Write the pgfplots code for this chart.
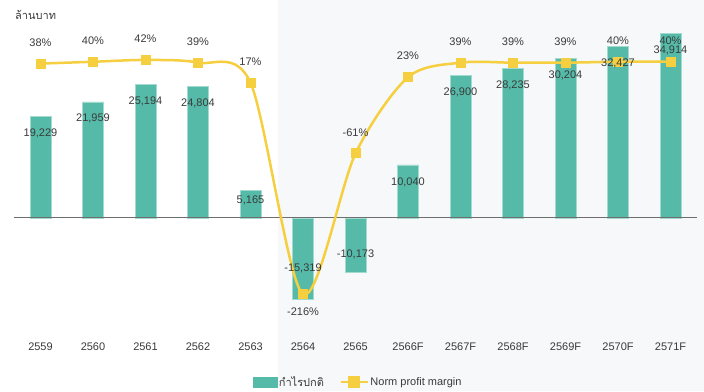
\documentclass[border=0pt]{standalone}
\usepackage{pgfplots}
\pgfplotsset{compat=1.18}
\usepackage{pgfplotstable}
\usepackage{fontspec}
\setmainfont{Liberation Sans}
\newfontfamily\thaifont[Script=Thai]{Loma}
\definecolor{barc}{HTML}{55BBA8}
\definecolor{baredge}{HTML}{A3DACF}
\definecolor{linec}{HTML}{F6CF40}
\definecolor{txt}{HTML}{3A3A3A}
\definecolor{bggray}{HTML}{F7F8FA}
\definecolor{zerog}{HTML}{6E6E6E}

\pgfplotstableread{
x y lab off
0 19229 19,229 -17
1 21959 21,959 -17
2 25194 25,194 -17
3 24804 24,804 -17
4 5165 5,165 -10
5 -15319 -15,319 31
6 -10173 -10,173 17
7 10040 10,040 -17
8 26900 26,900 -17
9 28235 28,235 -17
10 30204 30,204 -17
11 32427 32,427 -17
12 34914 34,914 -17
}\bardata

\pgfplotstableread{
x m lab off
0 38 38 21
1 40 40 21
2 42 42 21
3 39 39 21
4 17 17 21
5 -216 -216 -17
6 -61 -61 21
7 23 23 21
8 39 39 21
9 39 39 21
10 39 39 21
11 40 40 21
12 40 40 21
}\margindata

\pgfplotsset{
  base/.style={
    scale only axis, width=682.5pt, height=300pt,
    at={(14.25pt,71pt)}, anchor=south west,
    xmin=-0.5, xmax=12.5,
    axis line style={draw=none}, tick style={draw=none},
    clip=false, ytick=\empty,
    every tick label/.append style={font=\fontsize{11}{13}\selectfont, text=txt},
  },
  prim/.style={ymin=-19282, ymax=37429},
  sec/.style={ymin=-244.4, ymax=86.0},
}

\begin{document}
\begin{tikzpicture}
\path[use as bounding box] (0,0) rectangle (704pt,391pt);
\fill[bggray] (278pt,0) rectangle (704pt,391pt);

% bars
\begin{axis}[base, prim,
  xtick={0,...,12},
  xticklabels={2559,2560,2561,2562,2563,2564,2565,2566F,2567F,2568F,2569F,2570F,2571F},
  x tick label style={anchor=center, yshift=-27pt},
]
\addplot[ybar, bar width=21pt, fill=barc, draw=baredge, line width=0.6pt] table[x=x, y=y] {\bardata};
\draw[zerog, line width=1pt] (axis cs:-0.5,0) -- (axis cs:12.5,0);
\end{axis}

% margin line
\begin{axis}[base, sec, xtick=\empty,
  legend style={at={(0.5037,-0.2067)}, anchor=center, draw=none, fill=none,
    legend columns=-1, font=\fontsize{11}{13}\selectfont, text=txt,
    /tikz/every even column/.append style={column sep=14pt},
    nodes={inner sep=1.5pt}},
]
\addlegendimage{legend image code/.code={\fill[barc] (0pt,-5.3pt) rectangle (24pt,5.3pt);}}
\addlegendentry{\thaifont กำไรปกติ}
\addplot[smooth, linec, line width=2.5pt, mark=square*, mark size=4.5pt,
  mark options={fill=linec, draw=none, line width=0pt},
  legend image code/.code={\draw[linec, line width=2.5pt] (0pt,0pt) -- (27pt,0pt);
     \fill[linec] (9pt,-4.5pt) rectangle (18pt,4.5pt);},
  point meta=explicit symbolic,
  visualization depends on={\thisrow{off} \as \offv},
  nodes near coords={\pgfplotspointmeta\%},
  nodes near coords style={anchor=center, yshift=\offv pt, text=txt, font=\fontsize{11}{13}\selectfont},
] table[x=x, y=m, meta=lab] {\margindata};
\addlegendentry{Norm profit margin}
\end{axis}

% bar labels on top
\begin{axis}[base, prim, xtick=\empty]
\addplot[draw=none, mark=none,
  point meta=explicit symbolic,
  visualization depends on={\thisrow{off} \as \offv},
  nodes near coords={\pgfplotspointmeta},
  nodes near coords style={anchor=center, yshift=\offv pt, text=txt, font=\fontsize{11}{13}\selectfont},
] table[x=x, y=y, meta=lab] {\bardata};
\end{axis}

\node[anchor=west, text=txt, font=\fontsize{11}{13}\selectfont\thaifont, inner sep=0pt] at (15pt,376pt) {ล้านบาท};
\end{tikzpicture}
\end{document}
